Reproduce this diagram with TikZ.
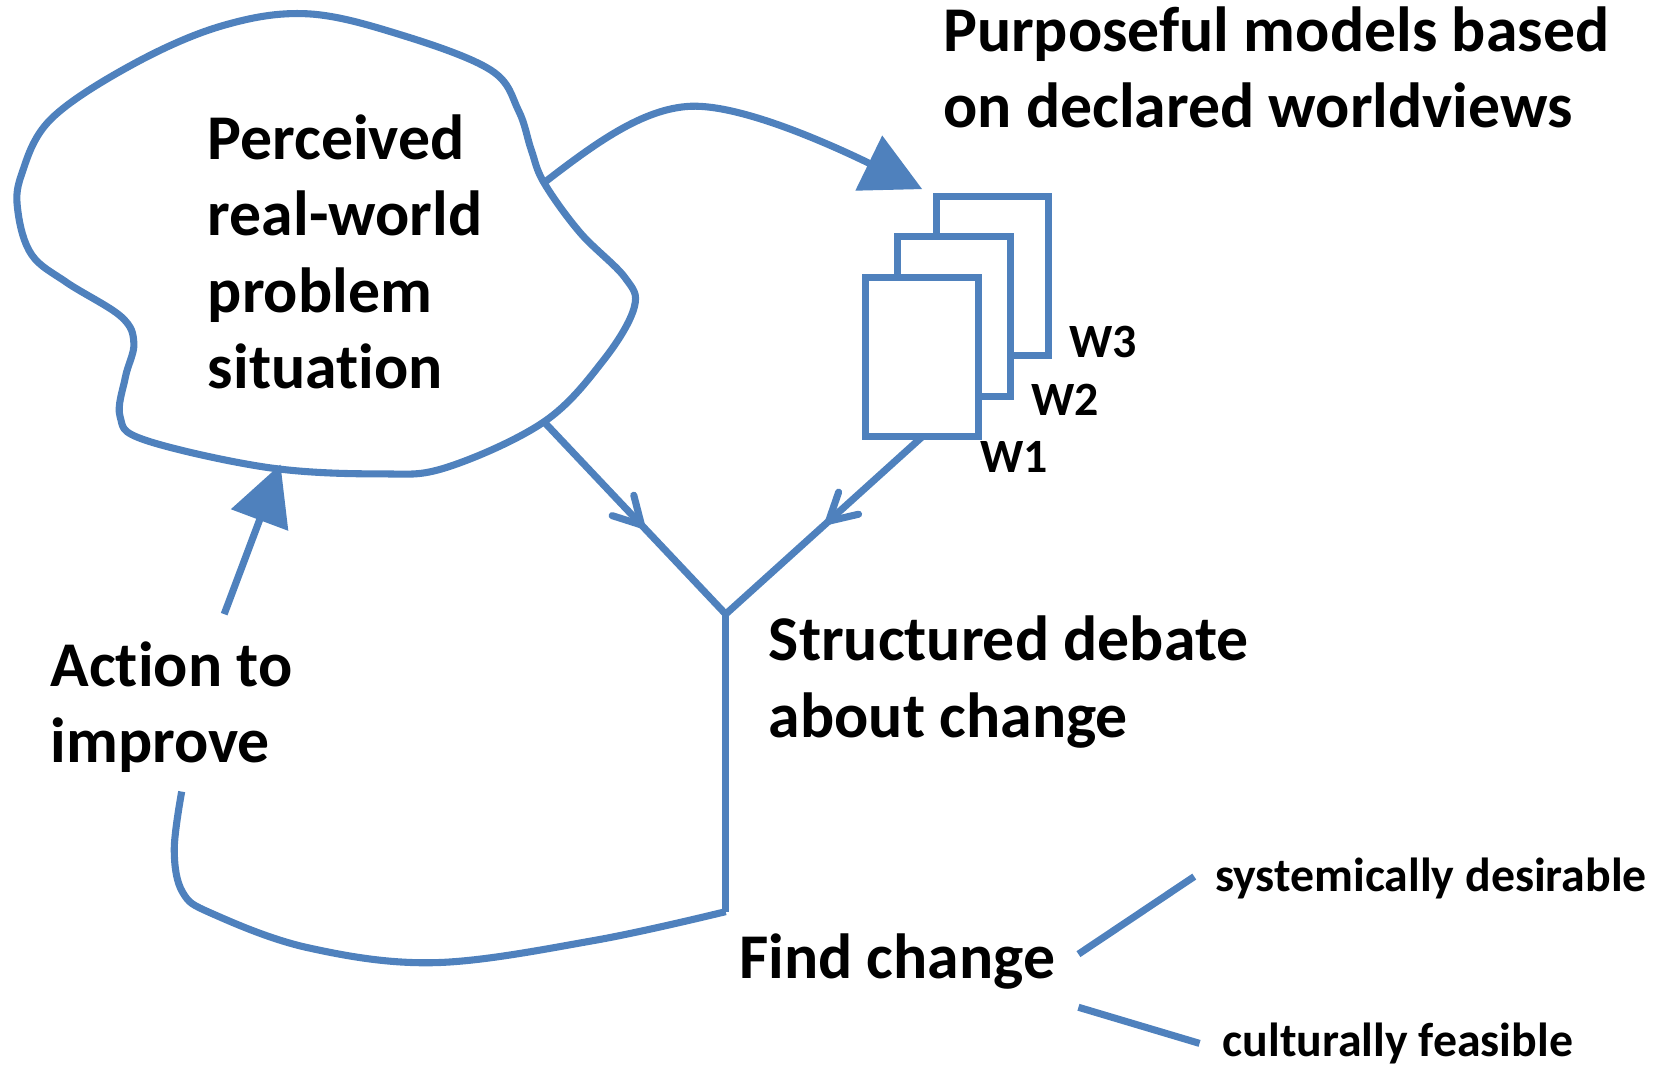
\documentclass[tikz,border=0pt]{standalone}
\usepackage{fontspec}
\setmainfont{Carlito}[Ligatures=NoCommon]
\usetikzlibrary{arrows.meta,decorations.markings}
\definecolor{ssmblue}{HTML}{4F81BD}
\begin{document}
\begin{tikzpicture}[x=0.3pt,y=-0.3pt,
  flow/.style={draw=ssmblue, line width=2pt},
  bighead/.style={-{Triangle[length=16.8pt,width=16.8pt]}},
  midbarb/.style={postaction={decorate},
    decoration={markings, mark=at position #1 with {\arrow{Straight Barb[length=7.6pt,width=8.4pt,round]}}}},
  lbl/.style={anchor=base west, inner sep=0pt, font=\bfseries\fontsize{18}{21.6}\selectfont},
  sml/.style={anchor=base west, inner sep=0pt, font=\bfseries\fontsize{13.5}{16.2}\selectfont},
  model/.style={draw=ssmblue, fill=white, line width=2pt, minimum width=31.8pt,
    minimum height=45pt, inner sep=0pt, outer sep=0pt, anchor=north west}]

\useasboundingbox (0,0) rectangle (1568,1006);

% the problem situation "cloud"
\draw[flow, line join=round] plot[smooth cycle, tension=0.6] coordinates {
  (512,172) (500,141) (488,104) (462,66) (378,33) (290,13) (210,24) (126,60)
  (48,112) (20,165) (17,200) (30,240) (63,266) (114,298) (126,323) (118,355)
  (113,392) (136,414) (252,440) (357,446) (420,440) (512,397) (568,339)
  (597,289) (588,261) (546,219)};

\coordinate (blobNE) at (512,172);
\coordinate (blobSE) at (512,397);
\coordinate (blobS)  at (264,437);
\coordinate (peak)   at (650,100);
\coordinate (modelsIn) at (868,178);
\coordinate (Y) at (683,578);
\coordinate (corner) at (683,858);
\coordinate (actEnd) at (171,745);
\coordinate (actStart) at (211,578);

% stack of purposeful models
\node[model] (m3) at (881,185) {};
\node[model] (m2) at (845,223) {};
\node[model] (m1) at (815,261) {};
\node[sml] (w3) at (1006,336) {W3};
\node[sml] (w2) at (970,391) {W2};
\node[sml] (w1) at (922,445) {W1};

% texts
\node[lbl] (p1) at (195,150) {Perceived};
\node[lbl] (p2) at (195,222) {real-world};
\node[lbl] (p3) at (195,294) {problem};
\node[lbl] (p4) at (195,366) {situation};

\node[lbl] (t1) at (887,48) {Purposeful models based};
\node[lbl] (t2) at (887,120) {on declared worldviews};

\node[lbl] (s1) at (723,622) {Structured debate};
\node[lbl] (s2) at (723,694) {about change};

\node[lbl] (a1) at (47,646) {Action to};
\node[lbl] (a2) at (47,718) {improve};

\node[lbl] (fc) at (695,921) {Find change};
\node[sml] (sd) at (1143,839) {systemically desirable};
\node[sml] (cf) at (1150,994) {culturally feasible};

% connectors
\draw[flow, bighead] (blobNE) .. controls (560,135) and (605,102) .. (peak)
  .. controls (700,98) and (790,140) .. (modelsIn);
\draw[flow, midbarb=0.55] (blobSE) -- (Y);
\draw[flow, midbarb=0.49] (m1.south) -- (Y);
\draw[flow] (Y) -- (corner);
\draw[flow, line join=round] plot[smooth, tension=0.6] coordinates {
  (683,858) (560,885) (410,906) (290,892) (200,860) (172,840) (164,800) (171,745)};
\draw[flow, bighead] (actStart) -- (blobS);

\coordinate (fcA) at (1015,898);
\coordinate (fcB) at (1015,948);
\draw[flow] (fcA) -- (1124,825);
\draw[flow] (fcB) -- (1129,982);
\end{tikzpicture}
\end{document}
